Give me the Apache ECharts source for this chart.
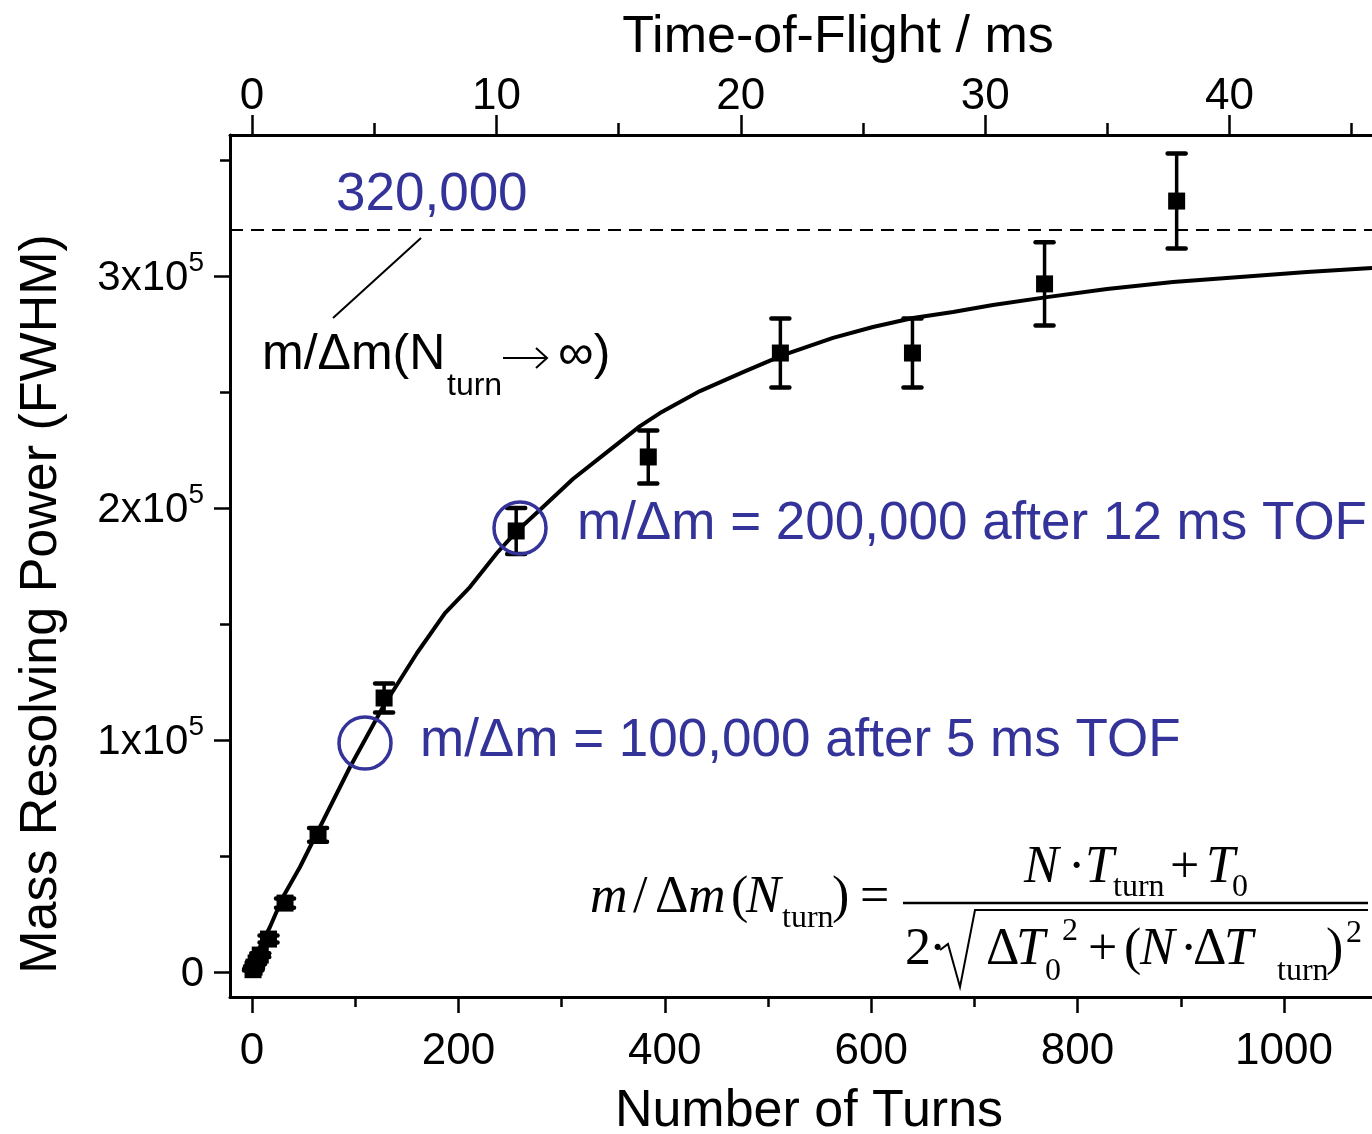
<!DOCTYPE html>
<html><head><meta charset="utf-8">
<script src="https://cdn.jsdelivr.net/npm/echarts@6/dist/echarts.min.js"></script>
<style>html,body{margin:0;padding:0;background:#fff}#c{width:1372px;height:1134px}</style>
</head><body><div id="c"></div>
<script>
// ---- data ----
const turns    = [1, 2, 4, 8, 16, 32, 64, 128, 256, 384, 512, 640, 768, 896];
const power    = [1000, 2100, 3900, 7300, 14200, 29700, 59100, 118100, 190100, 222000, 266800, 266800, 296600, 332300];
const powerErr = [300, 400, 500, 800, 1500, 2000, 3000, 6300, 9900, 11400, 14900, 14900, 17900, 20500];

const fitTurns = [0, 4.8, 17.4, 30.0, 46.5, 67.8, 95.0, 126.9, 159.9, 187.0, 211.2, 237.4, 256.8, 282.0, 311.0, 344.0, 376.0, 395.3, 434.1, 475.8, 514.5, 563.0, 601.7, 640.5, 679.3, 718.0, 770.3, 828.5, 892.4, 957.4, 1022.3, 1085.3];
const fitPower = [0, 8190, 19400, 32330, 45260, 64220, 88360, 114200, 137500, 154700, 165900, 180600, 190100, 200400, 212500, 224100, 235300, 240900, 250400, 258600, 265900, 273300, 278000, 281900, 284500, 287500, 290900, 294400, 297400, 299600, 301700, 303400];

const asymptote = 320000;
const highlightTurns = [109.5, 259.7];
const highlightPower = [98700, 191400];

const bottomTicks = [0, 200, 400, 600, 800, 1000];
const bottomMinor = [100, 300, 500, 700, 900];
const topTicks = [0, 10, 20, 30, 40];
const topMinor = [5, 15, 25, 35, 45];
const yTicks = [0, 100000, 200000, 300000];
const yMinor = [50000, 150000, 250000, 350000];

// ---- rendering ----
const BLUE = '#333399';
const SANS = 'Liberation Sans, Arial, sans-serif';
const SERIF = 'Liberation Serif, Times New Roman, serif';
const X_MIN = -21.32, X_MAX = 1085.3;
const T_MIN = -0.900, T_MAX = 45.83;
const Y_MIN = -10776, Y_MAX = 360776;

function txt(text, x, base, size, o) {
  o = o || {};
  return {
    type: 'text', x: x, y: base - 0.34 * size, rotation: o.rot || 0, z: 100,
    style: {
      text: text, fontSize: size, fontFamily: o.serif ? SERIF : SANS,
      fontStyle: o.italic ? 'italic' : 'normal', fill: o.color || '#000',
      align: o.align || 'left', verticalAlign: 'middle'
    }
  };
}
function ln(x1, y1, x2, y2, w) {
  return { type: 'line', z: 100, shape: { x1, y1, x2, y2 }, style: { stroke: '#000', lineWidth: w || 2 } };
}

const axisBase = (pos, min, max) => ({
  type: 'value', position: pos, min: min, max: max,
  splitLine: { show: false },
  axisLine: { show: true, onZero: false, lineStyle: { color: '#000', width: 3 } },
  axisTick: { show: true, length: 16, lineStyle: { color: '#000', width: 2.5 } },
  axisLabel: { show: true, color: '#000', fontFamily: SANS, fontSize: 44, formatter: v => String(v) }
});
const minorAxis = (pos, min, max, vals) => ({
  type: 'value', position: pos, min: min, max: max,
  splitLine: { show: false },
  axisLine: { show: false, onZero: false },
  axisTick: { show: true, length: 10, customValues: vals, lineStyle: { color: '#000', width: 2.5 } },
  axisLabel: { show: false }
});

const xBottom = axisBase('bottom', X_MIN, X_MAX);
xBottom.axisTick.customValues = bottomTicks;
xBottom.axisLabel.customValues = bottomTicks;
xBottom.axisLabel.margin = 33;

const xTop = axisBase('top', T_MIN, T_MAX);
xTop.axisTick.customValues = topTicks;
xTop.axisTick.length = 20;
xTop.axisLabel.customValues = topTicks;
xTop.axisLabel.margin = 16;

const yLeft = axisBase('left', Y_MIN, Y_MAX);
yLeft.axisTick.customValues = yTicks;
yLeft.axisLabel.customValues = yTicks;
yLeft.axisLabel.margin = 26;
yLeft.axisLabel.formatter = v => v === 0 ? '{b|0}' : '{b|' + Math.round(v / 1e5) + 'x10}{s|5}';
yLeft.axisLabel.rich = {
  b: { fontSize: 42, fontFamily: SANS, color: '#000', verticalAlign: 'bottom', lineHeight: 46 },
  s: { fontSize: 28, fontFamily: SANS, color: '#000', verticalAlign: 'bottom', lineHeight: 28, padding: [0, 0, 22, 0] }
};

const topMinorAxis = minorAxis('top', T_MIN, T_MAX, topMinor);
topMinorAxis.axisTick.length = 12;

const option = {
  animation: false,
  backgroundColor: '#fff',
  grid: { left: 230, right: 0, top: 135, bottom: 137, containLabel: false },
  xAxis: [xBottom, minorAxis('bottom', X_MIN, X_MAX, bottomMinor), xTop, topMinorAxis],
  yAxis: [yLeft, minorAxis('left', Y_MIN, Y_MAX, yMinor)],
  series: [
    {
      type: 'line', xAxisIndex: 0, yAxisIndex: 0, z: 3,
      data: fitTurns.map((t, i) => [t, fitPower[i]]),
      showSymbol: false, symbol: 'none', smooth: false,
      lineStyle: { color: '#000', width: 4, join: 'round' },
      markLine: {
        silent: true, symbol: 'none', label: { show: false },
        lineStyle: { type: [13, 8], width: 2, color: '#000', opacity: 1 },
        data: [{ yAxis: asymptote }]
      }
    },
    {
      type: 'custom', xAxisIndex: 0, yAxisIndex: 0, z: 4,
      data: turns.map((t, i) => [t, power[i], powerErr[i]]),
      renderItem: (params, api) => {
        const x = api.value(0), y = api.value(1), e = api.value(2);
        const a = api.coord([x, y + e]), b = api.coord([x, y - e]);
        const hw = 9;
        const st = { stroke: '#000', lineWidth: 4.5, lineCap: 'round' };
        return {
          type: 'group', children: [
            { type: 'line', shape: { x1: a[0], y1: a[1], x2: b[0], y2: b[1] }, style: { stroke: '#000', lineWidth: 3.5 } },
            { type: 'line', shape: { x1: a[0] - hw, y1: a[1], x2: a[0] + hw, y2: a[1] }, style: st },
            { type: 'line', shape: { x1: b[0] - hw, y1: b[1], x2: b[0] + hw, y2: b[1] }, style: st }
          ]
        };
      }
    },
    {
      type: 'scatter', xAxisIndex: 0, yAxisIndex: 0, z: 5,
      data: turns.map((t, i) => [t, power[i]]),
      symbol: 'rect', symbolSize: 17,
      itemStyle: { color: '#000', opacity: 1 }
    },
    {
      type: 'scatter', xAxisIndex: 0, yAxisIndex: 0, z: 6,
      data: highlightTurns.map((t, i) => [t, highlightPower[i]]),
      symbol: 'circle', symbolSize: 52,
      itemStyle: { color: 'rgba(0,0,0,0)', borderColor: BLUE, borderWidth: 3.5, opacity: 1 }
    }
  ],
  graphic: [
    // axis titles
    { type: 'text', x: 809, y: 1112, z: 100, style: { text: 'Number of Turns', fontSize: 52, fontFamily: SANS, fill: '#000', align: 'center', verticalAlign: 'middle' } },
    { type: 'text', x: 838, y: 38, z: 100, style: { text: 'Time-of-Flight / ms', fontSize: 52, fontFamily: SANS, fill: '#000', align: 'center', verticalAlign: 'middle' } },
    { type: 'text', x: 42, y: 604, rotation: Math.PI / 2, z: 100, style: { text: 'Mass Resolving Power (FWHM)', fontSize: 52, fontFamily: SANS, fill: '#000', align: 'center', verticalAlign: 'middle' } },
    // 320,000 annotation
    txt('320,000', 336, 213, 53, { color: BLUE }),
    ln(421, 238, 333, 318, 2),
    txt('m/Δm(N', 262, 372, 50),
    txt('turn', 447, 397, 32),
    ln(503, 358, 547, 358, 2),
    { type: 'polyline', z: 100, shape: { points: [[536, 348], [547, 358], [536, 368]] }, style: { stroke: '#000', lineWidth: 2, fill: null } },
    txt('∞)', 558, 372, 50),
    // blue annotations
    txt('m/Δm = 200,000 after 12 ms TOF', 577, 542, 53, { color: BLUE }),
    txt('m/Δm = 100,000 after 5 ms TOF', 420, 759, 53, { color: BLUE }),
    // formula, left side
    txt('m', 590, 916, 52, { serif: true, italic: true }),
    txt('/', 633, 916, 52, { serif: true }),
    txt('Δ', 655, 916, 52, { serif: true }),
    txt('m', 688, 916, 52, { serif: true, italic: true }),
    txt('(', 731, 916, 52, { serif: true }),
    txt('N', 746, 916, 52, { serif: true, italic: true }),
    txt('turn', 782, 929, 32, { serif: true }),
    txt(')', 832, 916, 52, { serif: true }),
    txt('=', 860, 916, 52, { serif: true }),
    // numerator
    txt('N', 1024, 886, 52, { serif: true, italic: true }),
    txt('·', 1068, 886, 52, { serif: true }),
    txt('T', 1085, 886, 52, { serif: true, italic: true }),
    txt('turn', 1113, 898, 32, { serif: true }),
    txt('+', 1170, 886, 52, { serif: true }),
    txt('T', 1206, 886, 52, { serif: true, italic: true }),
    txt('0', 1232, 898, 32, { serif: true }),
    ln(903, 903, 1368, 903, 2.5),
    // denominator
    txt('2', 905, 968, 52, { serif: true }),
    txt('·', 929, 968, 52, { serif: true }),
    { type: 'polyline', z: 100, shape: { points: [[940, 950], [948, 944], [960, 987], [975, 910], [1368, 910]] }, style: { stroke: '#000', lineWidth: 2, fill: null } },
    txt('Δ', 986, 968, 52, { serif: true }),
    txt('T', 1016, 968, 52, { serif: true, italic: true }),
    txt('0', 1045, 982, 32, { serif: true }),
    txt('2', 1062, 942, 32, { serif: true }),
    txt('+', 1088, 968, 52, { serif: true }),
    txt('(', 1124, 968, 52, { serif: true }),
    txt('N', 1140, 968, 52, { serif: true, italic: true }),
    txt('·', 1180, 968, 52, { serif: true }),
    txt('Δ', 1193, 968, 52, { serif: true }),
    txt('T', 1224, 968, 52, { serif: true, italic: true }),
    txt('turn', 1277, 982, 32, { serif: true }),
    txt(')', 1326, 968, 52, { serif: true }),
    txt('2', 1346, 944, 32, { serif: true })
  ]
};

const chart = echarts.init(document.getElementById('c'), null, { renderer: 'canvas' });
chart.setOption(option);
</script>
</body></html>
